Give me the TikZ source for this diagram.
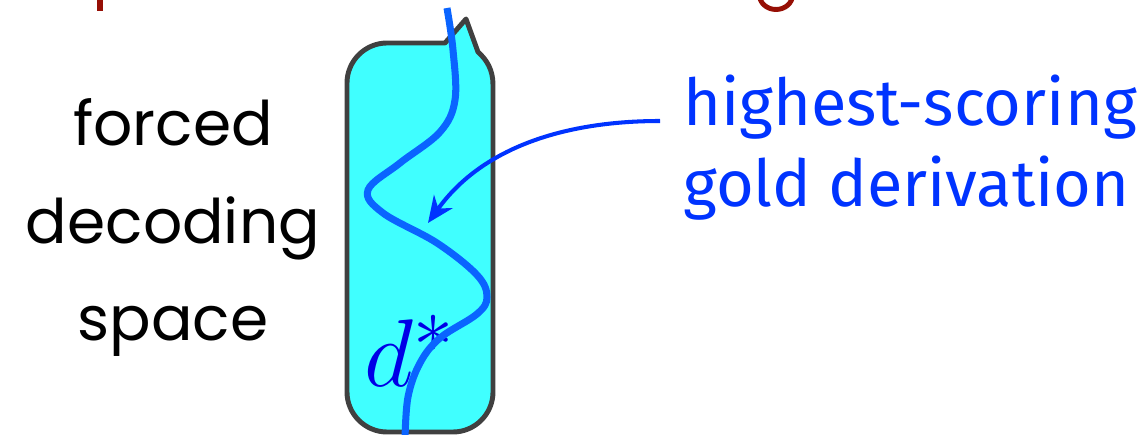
\documentclass[tikz,border=0pt]{standalone}
\usepackage{fontspec}
\newfontfamily\comicfont{Poppins}
\newfontfamily\gillfont{Fira Sans}
\usetikzlibrary{arrows.meta,positioning}

\definecolor{boxcyan}{RGB}{64,255,255}
\definecolor{boxgray}{RGB}{64,64,64}
\definecolor{pathblue}{RGB}{10,100,255}
\definecolor{labelblue}{RGB}{0,51,255}
\definecolor{starblue}{RGB}{0,0,230}
\definecolor{titlered}{RGB}{150,15,5}

\begin{document}
\begin{tikzpicture}[x=0.02cm, y=-0.02cm,
  spacebox/.style={fill=boxcyan, draw=boxgray, line width=2.8pt, line join=round},
  goldpath/.style={pathblue, line width=4pt},
  pointer/.style={labelblue, line width=2.3pt, -{Stealth[length=15pt, width=13pt]}}]
  \useasboundingbox (0,0) rectangle (1143,435);
  % Cut-off title letters above
  \begin{scope}
    \clip (0,0) rectangle (1143,435);
    \fill[titlered] (97,-5) rectangle (103,11);
    \draw[titlered, line width=2.8pt] (776,-5) ellipse [x radius=0.33cm, y radius=0.29cm];
  \end{scope}
  % The forced decoding space (torn corner at the top)
  \draw[spacebox] (347,392) -- (347,83) .. controls (347,61) and (365,43) .. (387,43)
    -- (445,43) -- (466,19) -- (478,52) .. controls (487,60) and (493,70) .. (493,85)
    -- (493,392) .. controls (493,414) and (475,432) .. (453,432) -- (387,432)
    .. controls (365,432) and (347,414) .. (347,392) -- cycle;
  % Labels (base = last line)
  \node[anchor=base, align=center, inner sep=0pt, font=\comicfont\fontsize{35}{55.6}\selectfont] (space) at (173,341) {forced\\decoding\\space};
  \node[anchor=base west, align=left, inner sep=0pt, labelblue, font=\gillfont\fontsize{36.9}{46.5}\selectfont] (gold) at (683,207) {highest-scoring\\gold derivation};
  \node[anchor=base west, starblue, font=\Huge, inner sep=0pt] (dstar) at (364,387) {\scalebox{2.2}{$d^*$}};
  % The gold derivation d*
  \draw[goldpath] plot[smooth, tension=0.6] coordinates {(447,8) (453,50) (455,100) (440,132) (400,163) (368,190) (383,213) (437,243) (477,275) (487,297) (477,314) (440,338) (420,363) (408,397) (405,440)};
  % Arrow to the derivation
  \coordinate (tail) at (660,121);
  \coordinate (tip) at (428,223);
  \draw[pointer] (tail) .. controls (560,121) and (480,150) .. (tip);
\end{tikzpicture}
\end{document}
